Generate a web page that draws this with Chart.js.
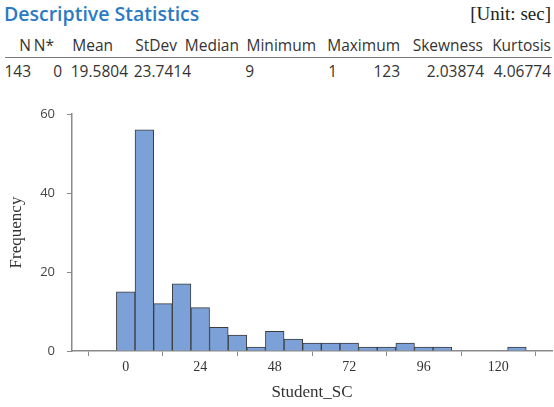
<!DOCTYPE html>
<html>
<head>
<meta charset="utf-8">
<script src="https://cdn.jsdelivr.net/npm/chart.js@4.4.1/dist/chart.umd.min.js"></script>
<style>
  html, body { margin: 0; padding: 0; background: #fff; }
  #page { position: relative; width: 554px; height: 407px; overflow: hidden; }
  #title { position: absolute; left: 4px; top: 0px; font: 600 19.5px "Open Sans", sans-serif; color: #2b7bc4; }
  #unit { position: absolute; right: 3px; top: 3px; font: 19px "Liberation Serif", serif; color: #222; }
  .cell { position: absolute; font: 15.5px "Open Sans", sans-serif; color: #333; white-space: nowrap; }
  #rule { position: absolute; left: 5px; width: 547px; top: 57px; height: 0; border-top: 1.5px solid #777; }
  #wrap { position: absolute; left: 0; top: 90px; width: 554px; height: 317px; }
</style>
</head>
<body>
<div id="page">
  <div id="title">Descriptive Statistics</div>
  <div id="unit">[Unit: sec]</div>
  <div id="rule"></div>
  <div id="wrap"><canvas id="hist"></canvas></div>
</div>
<script>
// summary table
const statNames = ['N', 'N*', 'Mean', 'StDev', 'Median', 'Minimum', 'Maximum', 'Skewness', 'Kurtosis'];
const statValues = ['143', '0', '19.5804', '23.7414', '9', '1', '123', '2.03874', '4.06774'];

// histogram of Student_SC, bins 6 wide
const binCenters = [0, 6, 12, 18, 24, 30, 36, 42, 48, 54, 60, 66, 72, 78, 84, 90, 96, 102, 108, 114, 120, 126];
const frequencies = [15, 56, 12, 17, 11, 6, 4, 1, 5, 3, 2, 2, 2, 1, 1, 2, 1, 1, 0, 0, 0, 1];
const xTicks = [0, 24, 48, 72, 96, 120];
const yTicks = [0, 20, 40, 60];

// right edge of each column, header row and value row
const headRight = [31, 54, 113, 177, 239, 316, 400, 483, 551];
const valueRight = [31, 62, 128, 191, 254, 337, 400, 484, 551];

const page = document.getElementById('page');
function addCell(text, right, top) {
  const el = document.createElement('div');
  el.className = 'cell';
  el.textContent = text;
  el.style.right = (554 - right) + 'px';
  el.style.top = top + 'px';
  page.appendChild(el);
}
statNames.forEach((s, i) => addCell(s, headRight[i], 34));
statValues.forEach((s, i) => addCell(s, valueRight[i], 60));

const axisGray = '#8a8a8a';

new Chart(document.getElementById('hist'), {
  type: 'bar',
  data: {
    datasets: [{
      label: 'Student_SC',
      data: binCenters.map((x, i) => ({ x: x, y: frequencies[i] })),
      backgroundColor: '#7ba1d8',
      borderColor: '#3c3c3c',
      borderWidth: 1,
      borderSkipped: 'start',
      barPercentage: 1,
      categoryPercentage: 1
    }]
  },
  options: {
    responsive: true,
    maintainAspectRatio: false,
    animation: false,
    layout: { padding: { top: 24, right: 2, bottom: 0, left: 0 } },
    plugins: { legend: { display: false }, tooltip: { enabled: false } },
    scales: {
      x: {
        type: 'linear',
        offset: false,
        min: -17.3,
        max: 137.3,
        afterBuildTicks: axis => { axis.ticks = xTicks.map(v => ({ value: v })); },
        afterFit: axis => { axis.height = 56; },
        border: { color: axisGray, width: 1.5 },
        grid: { drawOnChartArea: false, drawTicks: true, tickLength: 5, color: axisGray },
        ticks: { color: '#333', font: { family: 'Liberation Serif', size: 14 }, padding: 3, maxRotation: 0 },
        title: { display: true, text: 'Student_SC', color: '#333', font: { family: 'Liberation Serif', size: 17 }, padding: { top: 1 } }
      },
      y: {
        min: 0,
        max: 60,
        afterBuildTicks: axis => { axis.ticks = yTicks.map(v => ({ value: v })); },
        afterFit: axis => { axis.width = 72; },
        border: { color: axisGray, width: 1.5 },
        grid: { drawOnChartArea: false, drawTicks: true, tickLength: 5, color: axisGray },
        ticks: { color: '#444', font: { family: 'Open Sans', size: 13 }, padding: 12 },
        title: { display: true, text: 'Frequency', color: '#333', font: { family: 'Liberation Serif', size: 17 }, padding: { bottom: 0, top: 6 } }
      }
    }
  }
});
</script>
</body>
</html>
